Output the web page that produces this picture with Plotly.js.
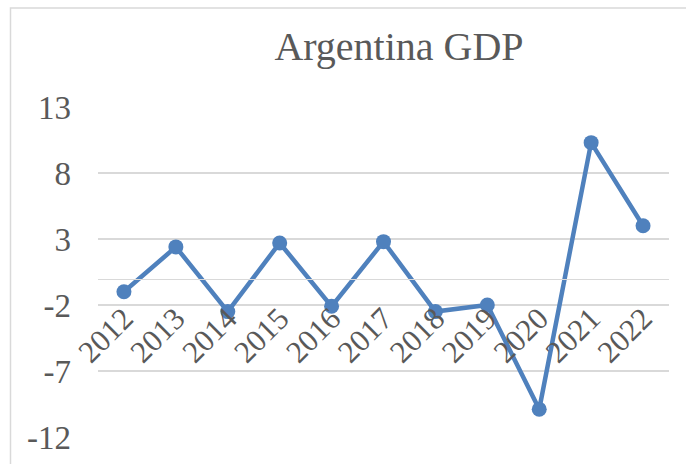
<!DOCTYPE html>
<html>
<head>
<meta charset="utf-8">
<script src="https://cdn.plot.ly/plotly-3.0.1.min.js"></script>
<style>html,body{margin:0;padding:0;background:#fff;}#chart{width:686px;height:464px;}</style>
</head>
<body>
<div id="chart"></div>
<script>
const years = ["2012","2013","2014","2015","2016","2017","2018","2019","2020","2021","2022"];
const gdpGrowth = [-1.0, 2.4, -2.5, 2.7, -2.1, 2.8, -2.5, -2.0, -9.9, 10.3, 4.0];
const yTicks = [-12, -7, -2, 3, 8, 13];
const chartTitle = "Argentina GDP";

const textColor = "#595959";
const gridColor = "#D9D9D9";
const font = "'Liberation Serif', 'Times New Roman', serif";

const trace = {
  x: years,
  y: gdpGrowth,
  type: "scatter",
  mode: "lines+markers",
  line: {color: "#4F81BD", width: 4.5},
  marker: {color: "#4F81BD", size: 15},
  cliponaxis: false,
  hoverinfo: "skip"
};

const layout = {
  width: 686,
  height: 464,
  margin: {l: 98, r: 17, t: 107, b: 27},
  paper_bgcolor: "#fff",
  plot_bgcolor: "rgba(0,0,0,0)",
  showlegend: false,
  font: {family: font, color: textColor},
  title: {
    text: chartTitle,
    font: {family: font, size: 40, color: textColor},
    x: 399/686, xref: "container", xanchor: "center",
    y: 1 - 46/464, yref: "container", yanchor: "middle"
  },
  xaxis: {
    type: "category",
    range: [-0.5, 10.5],
    anchor: "free",
    position: 0.48,
    showline: true,
    linecolor: gridColor,
    linewidth: 1.3,
    showgrid: false,
    zeroline: false,
    ticks: "",
    tickangle: -45,
    ticklabelstandoff: 8,
    tickfont: {family: font, size: 31, color: textColor}
  },
  yaxis: {
    range: [-12, 13],
    tickvals: yTicks,
    ticktext: yTicks.map(String),
    showgrid: true,
    gridcolor: gridColor,
    gridwidth: 1.3,
    zeroline: false,
    showline: false,
    ticks: "",
    ticklabelstandoff: 26,
    tickfont: {family: font, size: 33, color: textColor}
  },
  shapes: [{
    type: "rect", xref: "paper", yref: "paper", layer: "below",
    x0: (10.5 - 98) / 571, x1: (720 - 98) / 571,
    y0: (437 - 500) / 330, y1: (437 - 8) / 330,
    line: {color: gridColor, width: 1.5},
    fillcolor: "rgba(0,0,0,0)"
  }]
};

Plotly.newPlot("chart", [trace], layout, {displayModeBar: false, staticPlot: true});
</script>
</body>
</html>
